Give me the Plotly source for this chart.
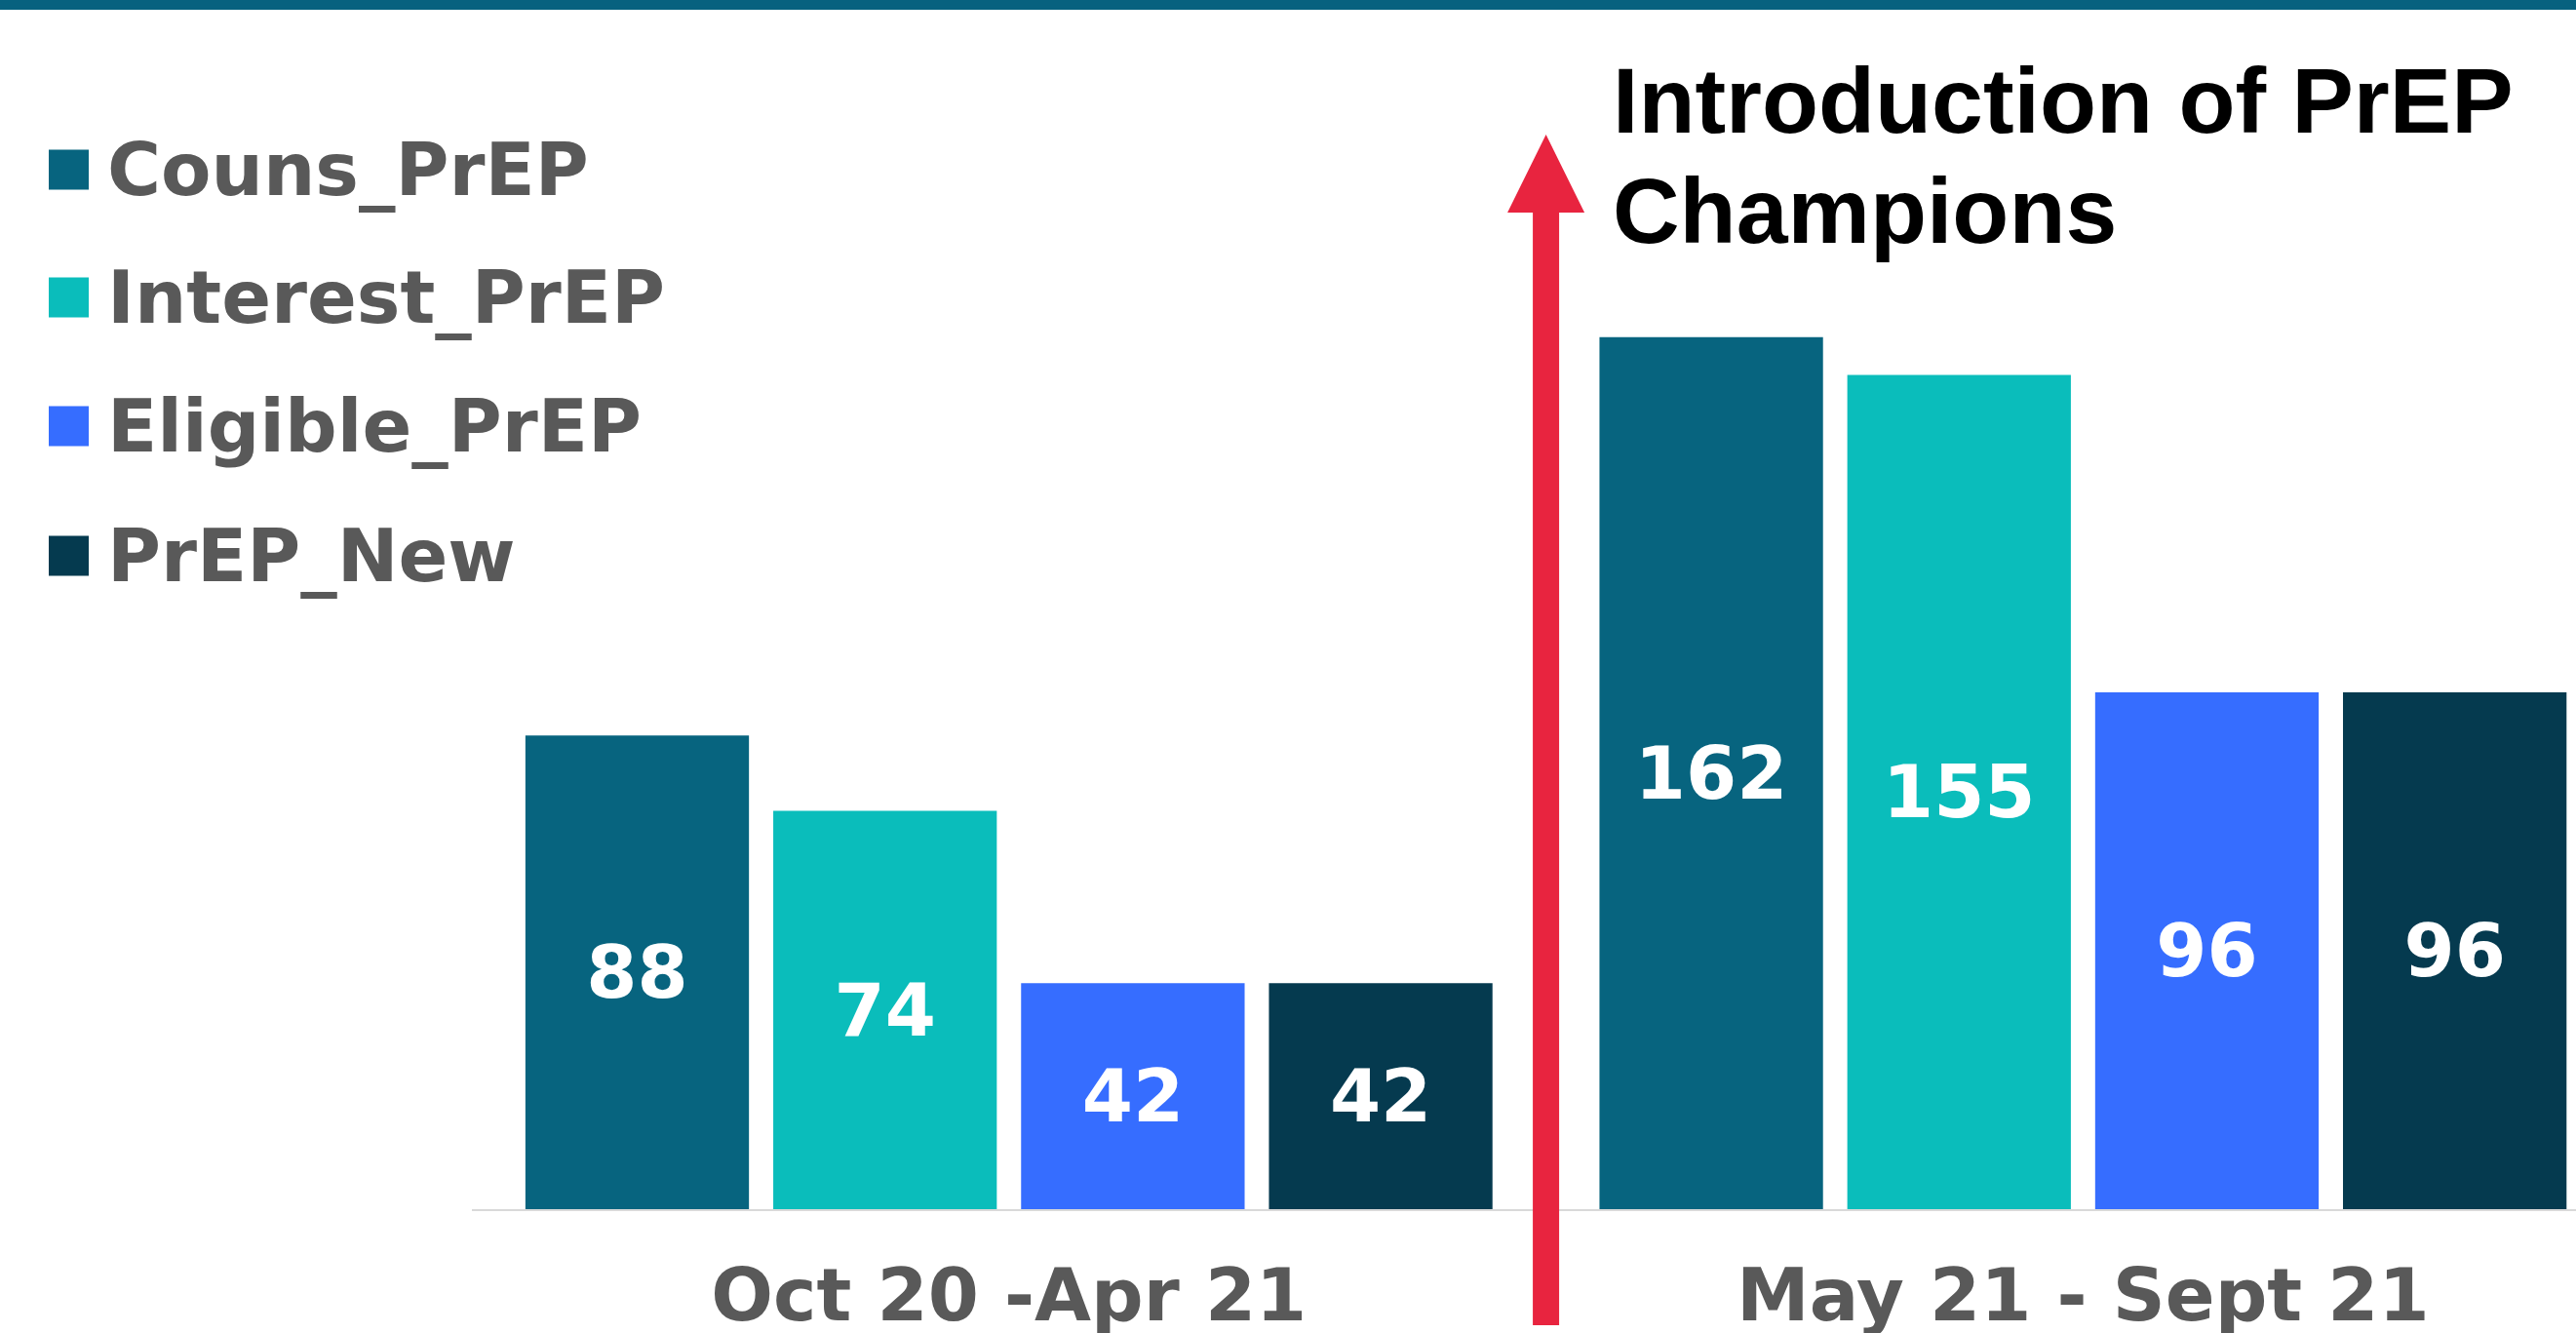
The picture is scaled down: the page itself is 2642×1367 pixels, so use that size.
import plotly.graph_objects as go

# ---- data ----
periods = ["Oct 20 -Apr 21", "May 21 - Sept 21"]
series_names = ["Couns_PrEP", "Interest_PrEP", "Eligible_PrEP", "PrEP_New"]
couns_prep = [88, 162]
interest_prep = [74, 155]
eligible_prep = [42, 96]
prep_new = [42, 96]
series_values = [couns_prep, interest_prep, eligible_prep, prep_new]
colors = ["#07647F", "#0ABDBB", "#366DFF", "#053A4F"]
title_lines = ["Introduction of PrEP", "Champions"]

W, H = 2642, 1367
ML, MR, MT, MB = 484, 0, 0, 127
PW = W - ML - MR
PH = H - MT - MB
XMIN, XMAX = -0.5, 1.459
YMAX = PH / 5.52

def px_x(p):
    return (p - ML) / PW

def px_y(p):
    return (H - MB - p) / PH

fig = go.Figure()
for name, vals, col in zip(series_names, series_values, colors):
    fig.add_bar(
        x=periods, y=vals, name=name, marker=dict(color=col, line=dict(width=0)),
        text=[str(v) for v in vals], textposition="inside", insidetextanchor="middle",
        constraintext="none",
        textfont=dict(family="DejaVu Sans", size=75, color="white", weight="bold"),
        showlegend=False,
    )

shapes = []
annotations = []
# top band
shapes.append(dict(type="rect", xref="paper", yref="paper", x0=px_x(0), x1=px_x(W),
                   y0=px_y(10), y1=px_y(0), fillcolor="#07617F", line=dict(width=0), layer="above"))

# manual legend
row_centers = [174, 305, 437, 570]
for name, col, cy in zip(series_names, colors, row_centers):
    shapes.append(dict(type="rect", xref="paper", yref="paper",
                       x0=px_x(50), x1=px_x(91), y0=px_y(cy + 20.5), y1=px_y(cy - 20.5),
                       fillcolor=col, line=dict(width=0)))
    annotations.append(dict(text=name, xref="paper", yref="paper", x=px_x(108), y=px_y(cy),
                            xanchor="left", yanchor="middle", showarrow=False,
                            font=dict(family="DejaVu Sans", size=75, color="#595959", weight="bold")))

# red arrow between the two periods
xc = (0.5 - XMIN) / (XMAX - XMIN)
s = 13.5 / PW
h = 39.5 / PW
yb, yh, yt = px_y(1359), px_y(218), px_y(138)
path = (f"M {xc-s},{yb} L {xc-s},{yh} L {xc-h},{yh} L {xc},{yt} "
        f"L {xc+h},{yh} L {xc+s},{yh} L {xc+s},{yb} Z")
shapes.append(dict(type="path", xref="paper", yref="paper", path=path,
                   fillcolor="#E8243F", line=dict(width=0), layer="above"))

for i, line in enumerate(title_lines):
    annotations.append(dict(text=line, xref="paper", yref="paper",
                            x=px_x(1652), y=px_y(48 + 113 * i), xanchor="left", yanchor="top",
                            align="left", showarrow=False,
                            font=dict(family="Liberation Sans", size=95, color="black", weight="bold")))

fig.update_layout(
    template="none",
    width=W, height=H,
    margin=dict(l=ML, r=MR, t=MT, b=MB, pad=0, autoexpand=False),
    paper_bgcolor="white", plot_bgcolor="white",
    showlegend=False,
    barmode="group", bargap=0.077, bargroupgap=0.098,
    shapes=shapes, annotations=annotations,
    xaxis=dict(type="category", range=[XMIN, XMAX], showgrid=False, zeroline=False,
               automargin=False,
               showline=True, linecolor="#D9D9D9", linewidth=2, ticks="",
               ticklabelstandoff=22,
               tickfont=dict(family="DejaVu Sans", size=75, color="#595959", weight="bold")),
    yaxis=dict(range=[0, YMAX], visible=False, showgrid=False, zeroline=False, automargin=False),
)

fig.write_html("out.html", config={"displayModeBar": False},
               post_script="document.body.style.margin='0px';")
